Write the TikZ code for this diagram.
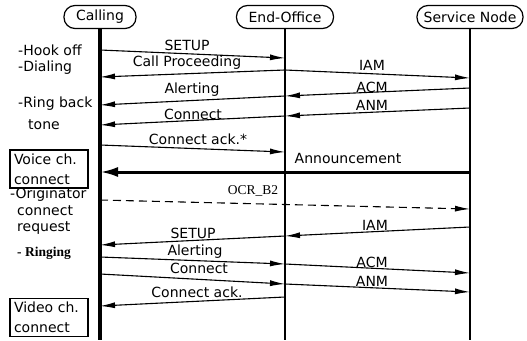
\documentclass[tikz,border=0pt]{standalone}
\usepackage{fontspec}
\setmainfont{DejaVu Sans}
\newfontfamily\oldface{Liberation Serif}
\usetikzlibrary{arrows.meta}

\begin{document}
\begin{tikzpicture}[x=1pt,y=-1pt,font=\fontsize{14}{16}\selectfont,
    head/.style={draw,line width=1.2pt,rounded corners=11pt,minimum height=23pt,inner sep=0pt},
    life/.style={line width=2.8pt},
    msg/.style={line width=1.1pt,-{Latex[length=15pt,width=6pt]}},
    lbl/.style={inner sep=0pt},
    note/.style={inner sep=0pt,anchor=west},
    chbox/.style={draw,line width=1.2pt,align=left,text width=70pt,inner xsep=4pt,
      minimum width=78pt,minimum height=38pt,font=\fontsize{14}{20}\selectfont}]
  \useasboundingbox (0,0) rectangle (527,340);

  % entities and life lines
  \node[head,minimum width=72pt] (calling) at (100,17) {Calling};
  \node[head,minimum width=97pt] (office) at (285,17) {End-Office};
  \node[head,minimum width=106pt] (snode) at (470,17) {Service Node};
  \coordinate (callingEnd) at (100,340);
  \coordinate (officeEnd) at (285,340);
  \coordinate (snodeEnd) at (470,340);
  \draw[life,line width=3.2pt] (calling) -- (callingEnd);
  \draw[life] (office) -- (officeEnd);
  \draw[life,line width=2.4pt] (snode) -- (snodeEnd);

  % message ends
  \coordinate (c1) at (100,50);  \coordinate (e1) at (285,58);
  \coordinate (e2) at (285,70);  \coordinate (c2) at (100,77);  \coordinate (s2) at (470,78);
  \coordinate (s3) at (470,88);  \coordinate (e3) at (285,96);  \coordinate (c3) at (100,105);
  \coordinate (s4) at (470,108); \coordinate (e4) at (285,116); \coordinate (c4) at (100,125);
  \coordinate (c5) at (100,145); \coordinate (e5) at (285,152);
  \coordinate (s6) at (470,172); \coordinate (c6) at (100,172);
  \coordinate (c7) at (100,200); \coordinate (s7) at (470,209);
  \coordinate (s8) at (470,227); \coordinate (e8) at (285,236); \coordinate (c8) at (100,245);
  \coordinate (c9) at (100,257); \coordinate (e9) at (285,264); \coordinate (s9) at (470,273);
  \coordinate (c10) at (100,274); \coordinate (e10) at (285,284); \coordinate (s10) at (470,292);
  \coordinate (e11) at (285,297); \coordinate (c11) at (100,306);

  % voice set-up
  \draw[msg] (c1) -- (e1);
  \draw[msg] (e2) -- (c2);
  \draw[msg] (e2) -- (s2);
  \draw[msg] (s3) -- (e3);
  \draw[msg] (e3) -- (c3);
  \draw[msg] (s4) -- (e4);
  \draw[msg] (e4) -- (c4);
  \draw[msg] (c5) -- (e5);
  \draw[line width=3pt,-{Latex[length=18pt,width=10pt]}] (s6) -- (c6);
  \draw[msg,dash pattern=on 8pt off 5pt] (c7) -- (s7);

  % video set-up
  \draw[msg] (s8) -- (e8);
  \draw[msg] (e8) -- (c8);
  \draw[msg] (c9) -- (e9);
  \draw[msg] (e9) -- (s9);
  \draw[msg] (c10) -- (e10);
  \draw[msg] (e10) -- (s10);
  \draw[msg] (e11) -- (c11);

  % message names
  \node[lbl] (setupA) at (187,45) {SETUP};
  \node[lbl] (procA) at (187,63) {Call Proceeding};
  \node[lbl] (iamA) at (372,65) {IAM};
  \node[lbl] (alertA) at (192,90) {Alerting};
  \node[lbl] (acmA) at (372,87) {ACM};
  \node[lbl] (anmA) at (372,105) {ANM};
  \node[lbl] (connA) at (193,114) {Connect};
  \node[lbl] (ackA) at (198,139) {Connect ack.*};
  \node[lbl] (annc) at (348,158) {Announcement};
  \node[lbl,font=\oldface\fontsize{13.5}{15}\selectfont] (ocr) at (253,191) {OCR\_B2};
  \node[lbl] (iamB) at (375,225) {IAM};
  \node[lbl] (setupB) at (193,233) {SETUP};
  \node[lbl] (alertB) at (195,252) {Alerting};
  \node[lbl] (acmB) at (372,262) {ACM};
  \node[lbl] (connB) at (199,268) {Connect};
  \node[lbl] (anmB) at (372,281) {ANM};
  \node[lbl] (ackB) at (197,292) {Connect ack.};

  % caller side notes
  \node[note] (hook) at (18,50) {-Hook off};
  \node[note] (dial) at (18,68) {-Dialing};
  \node[note] (ring) at (18,104) {-Ring back};
  \node[note] (tone) at (28,125) {tone};
  \node[chbox] (voice) at (49,169) {Voice ch.\\connect};
  \node[note] (orig) at (10,195) {-Originator};
  \node[note] (origB) at (17,211) {connect};
  \node[note] (origC) at (17,228) {request};
  \node[note,font=\oldface\bfseries\fontsize{13.5}{15}\selectfont] (ringing) at (17,253) {- Ringing};
  \node[chbox] (video) at (49,317.5) {Video ch.\\connect};
\end{tikzpicture}
\end{document}
